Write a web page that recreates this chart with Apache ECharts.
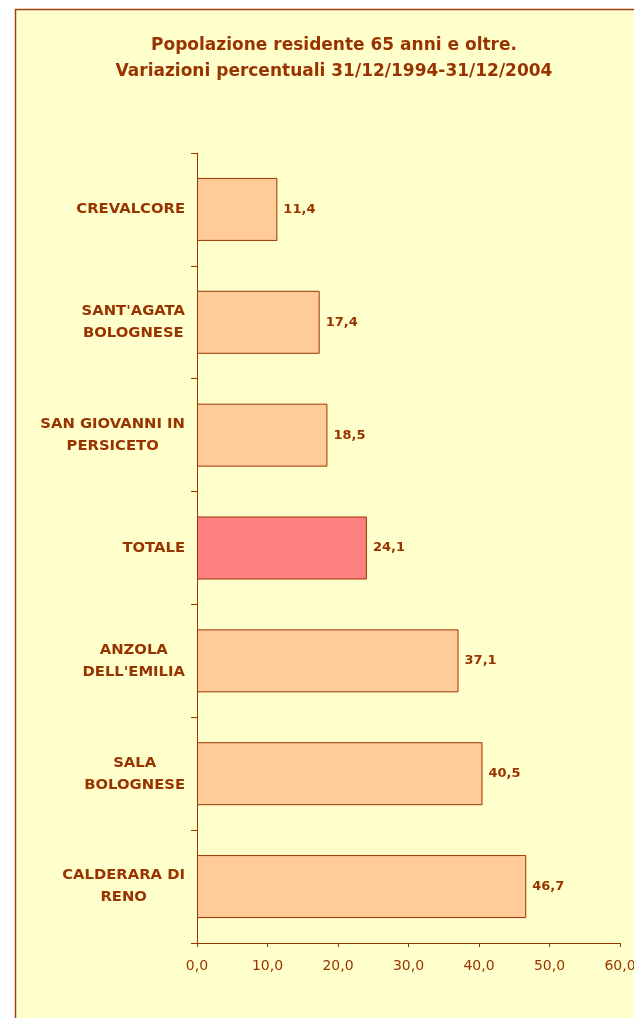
<!DOCTYPE html>
<html><head><meta charset="utf-8">
<script src="https://cdn.jsdelivr.net/npm/echarts@6/dist/echarts.min.js"></script>
<style>html,body{margin:0;padding:0;background:#fff}#c{width:634px;height:1018px}</style>
</head><body><div id="c"></div>
<script>
const categories = ["CREVALCORE", "SANT'AGATA\nBOLOGNESE", "SAN GIOVANNI IN\nPERSICETO", "TOTALE", "ANZOLA\nDELL'EMILIA", "SALA\nBOLOGNESE", "CALDERARA DI\nRENO"];
const values = [11.4, 17.4, 18.5, 24.1, 37.1, 40.5, 46.7];
const highlight = "TOTALE";
const titleLines = ["Popolazione residente 65 anni e oltre.", "Variazioni percentuali 31/12/1994-31/12/2004"];

const fmt = v => v.toFixed(1).replace('.', ',');
const C = '#993300';
const F = 'DejaVu Sans, Verdana, sans-serif';
const chart = echarts.init(document.getElementById('c'));
chart.setOption({
  backgroundColor: '#ffffff',
  animation: false,
  graphic: [{
    type: 'rect', z: -10,
    shape: {x: 15.5, y: 9.5, width: 640, height: 1030},
    style: {fill: '#FFFFCC', stroke: '#A0400A', lineWidth: 1.5}
  }],
  title: {
    text: titleLines.join('\n'),
    left: 329, top: 28, textAlign: 'center',
    textStyle: {color: C, fontFamily: F, fontWeight: 'bold', fontSize: 17, lineHeight: 26}
  },
  grid: {left: 197, right: 14, top: 153, bottom: 75, outerBoundsMode: 'none', containLabel: false},
  xAxis: {
    type: 'value', min: 0, max: 60, interval: 10,
    axisLine: {show: true, lineStyle: {color: C, width: 1}},
    axisTick: {show: true, length: 4, lineStyle: {color: C}},
    splitLine: {show: false},
    axisLabel: {color: C, fontFamily: F, fontSize: 14, margin: 16, formatter: fmt, hideOverlap: false}
  },
  yAxis: {
    type: 'category', inverse: true, data: categories,
    axisLine: {show: true, lineStyle: {color: C, width: 1}},
    axisTick: {show: true, length: 6, lineStyle: {color: C}},
    axisLabel: {
      color: C, margin: 12,
      formatter: v => v.split('\n').map(s => '{a|' + s + '}').join('\n'),
      rich: {a: {align: 'center', color: C, fontFamily: F, fontWeight: 'bold', fontSize: 14.8, lineHeight: 22}}
    }
  },
  series: [{
    type: 'bar', barWidth: 63,
    data: values.map((v, i) => ({
      value: v,
      itemStyle: {color: categories[i] === highlight ? '#FF8080' : '#FFCC99', borderColor: C, borderWidth: 1}
    })),
    label: {
      show: true, position: 'right', distance: 6, color: C,
      fontFamily: F, fontWeight: 'bold', fontSize: 13,
      formatter: p => fmt(p.value)
    }
  }]
});
</script></body></html>
